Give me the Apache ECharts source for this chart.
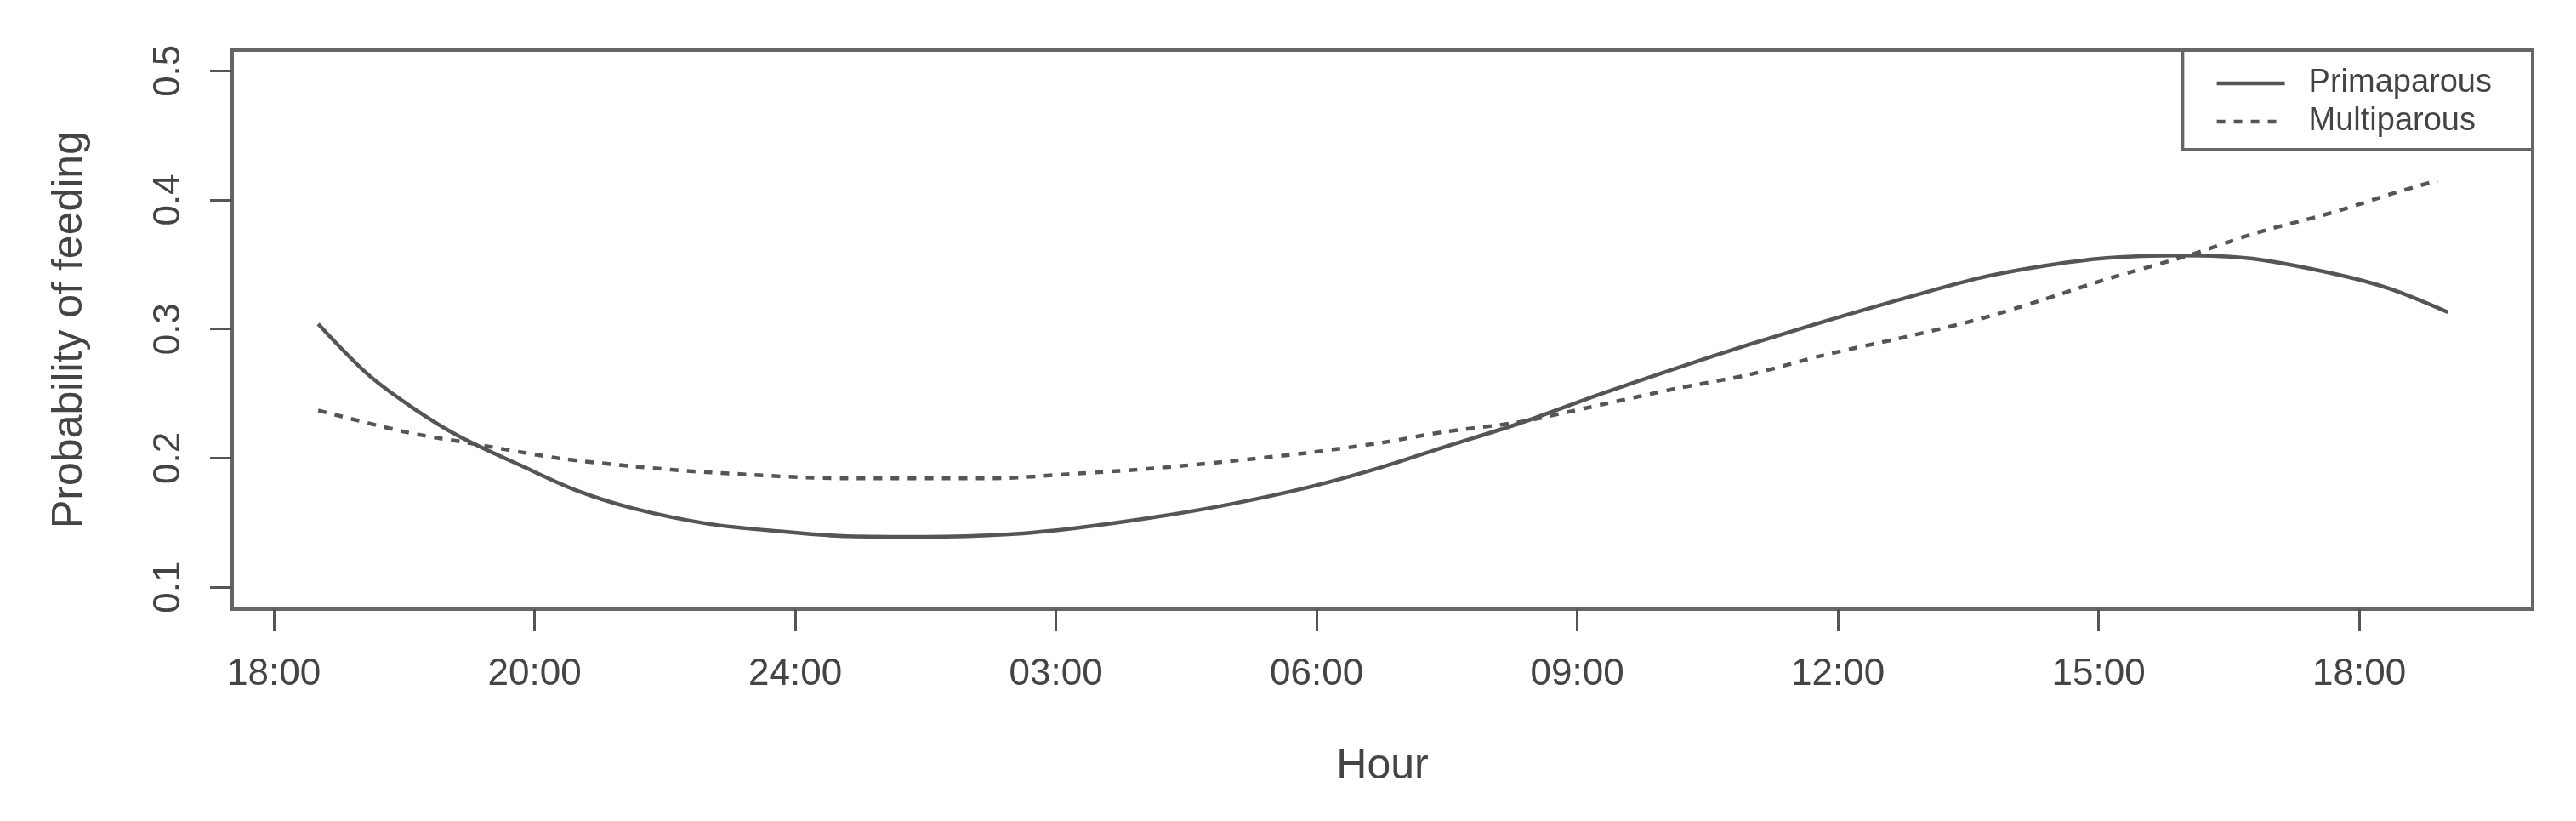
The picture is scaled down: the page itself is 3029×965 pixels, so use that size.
<!DOCTYPE html>
<html>
<head>
<meta charset="utf-8">
<script src="https://cdn.jsdelivr.net/npm/echarts@6/dist/echarts.min.js"></script>
<style>
html,body{margin:0;padding:0;background:#fff;}
#chart{width:3029px;height:965px;}
</style>
</head>
<body>
<div id="chart"></div>
<script>
// Tick positions (in tick-index units) and their labels
var tickPositions = [0, 1, 2, 3, 4, 5, 6, 7, 8];
var tickLabels = ['18:00', '20:00', '24:00', '03:00', '06:00', '09:00', '12:00', '15:00', '18:00'];
var yTicks = [0.1, 0.2, 0.3, 0.4, 0.5];

// Primaparous (solid) – [x position, probability]
var primaX = [0.17, 0.36, 0.54, 0.71, 0.95, 1.16, 1.38, 1.67, 1.96, 2.2, 2.5, 2.82, 3.08, 3.37, 3.66, 3.96, 4.25, 4.48, 4.78, 5.08, 5.37, 5.66, 5.95, 6.24, 6.53, 6.76, 7.03, 7.32, 7.59, 7.91, 8.12, 8.34];
var primaY = [0.304, 0.265, 0.238, 0.217, 0.194, 0.175, 0.161, 0.149, 0.143, 0.1395, 0.139, 0.141, 0.146, 0.154, 0.164, 0.177, 0.193, 0.208, 0.227, 0.249, 0.269, 0.288, 0.306, 0.323, 0.339, 0.348, 0.355, 0.357, 0.3545, 0.3425, 0.331, 0.313];

// Multiparous (dashed)
var multiX = [0.17, 0.51, 0.74, 1.09, 1.38, 1.67, 2.2, 2.74, 3.08, 3.37, 3.66, 3.96, 4.25, 4.48, 4.78, 4.97, 5.37, 5.66, 5.95, 6.24, 6.53, 6.76, 7.03, 7.36, 7.61, 7.91, 8.12, 8.30];
var multiY = [0.237, 0.220, 0.212, 0.200, 0.1936, 0.189, 0.1843, 0.1843, 0.188, 0.192, 0.1975, 0.204, 0.212, 0.220, 0.228, 0.236, 0.2535, 0.2647, 0.280, 0.293, 0.307, 0.321, 0.3386, 0.358, 0.3748, 0.391, 0.4045, 0.415];

function pairs(xs, ys) { return xs.map(function (x, i) { return [x, ys[i]]; }); }

var FONT = "'Liberation Sans', Arial, sans-serif";
var TXT = '#444';
var LINE = '#555';

var chart = echarts.init(document.getElementById('chart'), null, {renderer: 'canvas'});
chart.setOption({
  backgroundColor: '#fff',
  animation: false,
  grid: {
    left: 273, right: 51, top: 59, bottom: 249,
    show: true, borderColor: '#666', borderWidth: 4, backgroundColor: 'transparent'
  },
  legend: {
    show: true,
    orient: 'vertical',
    right: 51, top: 59,
    backgroundColor: '#fff',
    borderColor: '#666', borderWidth: 4,
    padding: [20, 48, 14, 38],
    itemWidth: 80, itemHeight: 20, itemGap: 7,
    itemStyle: {opacity: 0},
    lineStyle: {width: 4.5},
    textStyle: {fontFamily: FONT, fontSize: 38, color: TXT, padding: [0, 0, 0, 23]},
    data: ['Primaparous', 'Multiparous']
  },
  xAxis: {
    type: 'value',
    min: -0.16, max: 8.665,
    splitLine: {show: false},
    axisLine: {show: false, onZero: false},
    axisTick: {show: true, customValues: tickPositions, length: 26, lineStyle: {color: LINE, width: 3}},
    axisLabel: {
      customValues: tickPositions,
      formatter: function (v) { return tickLabels[Math.round(v)]; },
      fontFamily: FONT, fontSize: 44, color: TXT, margin: 55
    },
    name: 'Hour', nameLocation: 'middle', nameGap: 160,
    nameTextStyle: {fontFamily: FONT, fontSize: 50, color: TXT}
  },
  yAxis: {
    type: 'value',
    min: 0.083, max: 0.516,
    splitLine: {show: false},
    axisLine: {show: false, onZero: false},
    axisTick: {show: true, customValues: yTicks, length: 26, lineStyle: {color: LINE, width: 3}},
    axisLabel: {
      customValues: yTicks, rotate: 90,
      formatter: function (v) { return v.toFixed(1); },
      fontFamily: FONT, fontSize: 44, color: TXT, margin: 52
    },
    name: 'Probability of feeding', nameLocation: 'middle', nameGap: 166, nameRotate: 90,
    nameTextStyle: {fontFamily: FONT, fontSize: 50, color: TXT}
  },
  series: [
    {
      name: 'Primaparous', type: 'line', data: pairs(primaX, primaY),
      smooth: 0.3, symbol: 'none', showSymbol: false,
      lineStyle: {color: LINE, width: 4.5, type: 'solid'},
      itemStyle: {color: LINE}
    },
    {
      name: 'Multiparous', type: 'line', data: pairs(multiX, multiY),
      smooth: 0.3, symbol: 'none', showSymbol: false,
      lineStyle: {color: LINE, width: 4.5, type: [10, 10]},
      itemStyle: {color: LINE}
    }
  ]
});
</script>
</body>
</html>
